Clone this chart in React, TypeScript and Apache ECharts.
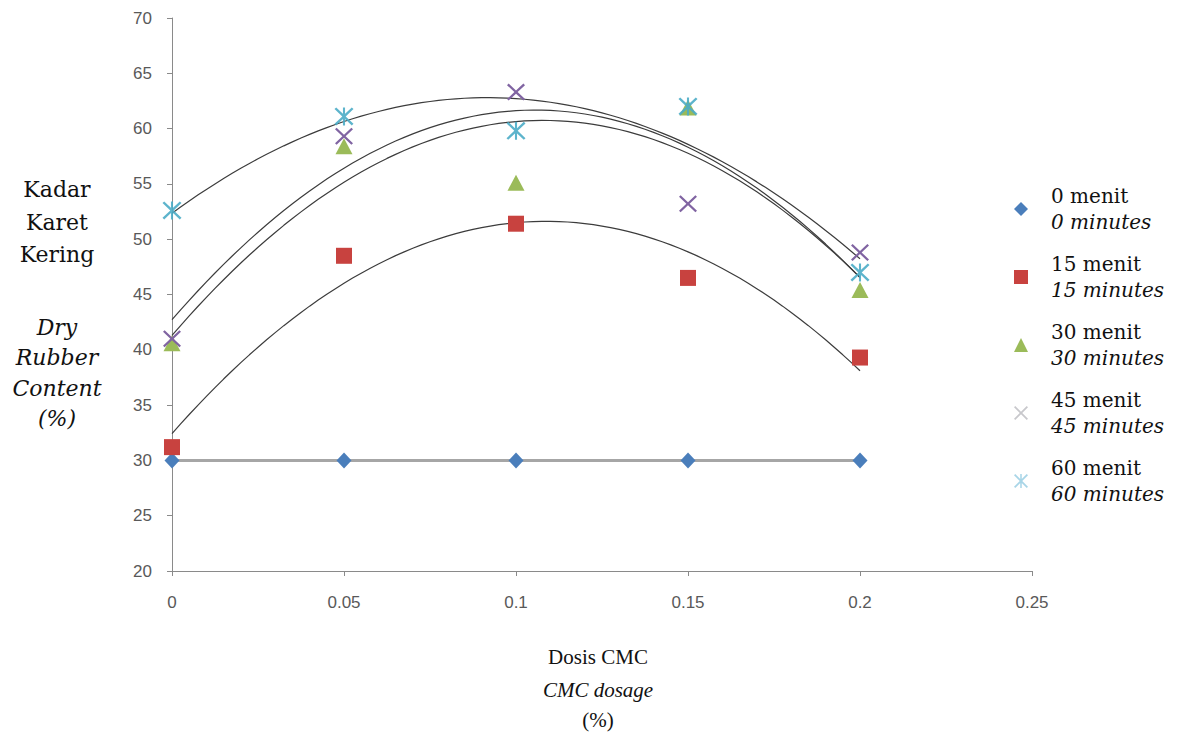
import React, { useEffect, useRef } from "react";
import * as echarts from "echarts";

const dosage = [0, 0.05, 0.1, 0.15, 0.2];
const menit0 = [30, 30, 30, 30, 30];
const menit15 = [31.2, 48.5, 51.4, 46.5, 39.3];
const menit30 = [40.6, 58.4, 55.1, 61.9, 45.4];
const menit45 = [41.0, 59.3, 63.3, 53.2, 48.8];
const menit60 = [52.6, 61.1, 59.8, 62.0, 47.0];

const seriesNames = ["0 menit", "15 menit", "30 menit", "45 menit", "60 menit"];
const englishNames = ["0 minutes", "15 minutes", "30 minutes", "45 minutes", "60 minutes"];
const yTicks = { min: 20, max: 70, interval: 5 };
const xTicks = { min: 0, max: 0.25, interval: 0.05 };

const X_SYMBOL =
  "path://M0,0.9L0.9,0L5,4.1L9.1,0L10,0.9L5.9,5L10,9.1L9.1,10L5,5.9L0.9,10L0,9.1L4.1,5Z";
const STAR_SYMBOL =
  "path://M0,0.9L0.9,0L5,4.1L9.1,0L10,0.9L5.9,5L10,9.1L9.1,10L5,5.9L0.9,10L0,9.1L4.1,5Z M4.45,0L5.55,0L5.55,10L4.45,10Z";

// least-squares quadratic fit (Excel polynomial trendline, order 2)
function quadFit(xs: number[], ys: number[]) {
  const n = xs.length;
  const s = [0, 0, 0, 0, 0];
  const t = [0, 0, 0];
  for (let i = 0; i < n; i++) {
    const x = xs[i];
    const y = ys[i];
    for (let k = 0; k < 5; k++) s[k] += Math.pow(x, k);
    for (let k = 0; k < 3; k++) t[k] += Math.pow(x, k) * y;
  }
  const A = [
    [s[0], s[1], s[2], t[0]],
    [s[1], s[2], s[3], t[1]],
    [s[2], s[3], s[4], t[2]],
  ];
  for (let c = 0; c < 3; c++) {
    let p = c;
    for (let r = c + 1; r < 3; r++) if (Math.abs(A[r][c]) > Math.abs(A[p][c])) p = r;
    [A[c], A[p]] = [A[p], A[c]];
    for (let r = 0; r < 3; r++) {
      if (r === c) continue;
      const f = A[r][c] / A[c][c];
      for (let k = c; k < 4; k++) A[r][k] -= f * A[c][k];
    }
  }
  const coef = [A[0][3] / A[0][0], A[1][3] / A[1][1], A[2][3] / A[2][2]];
  return (x: number) => coef[0] + coef[1] * x + coef[2] * x * x;
}

function trend(ys: number[]) {
  const f = quadFit(dosage, ys);
  const x0 = dosage[0];
  const x1 = dosage[dosage.length - 1];
  const pts: number[][] = [];
  const steps = 80;
  for (let i = 0; i <= steps; i++) {
    const x = x0 + ((x1 - x0) * i) / steps;
    pts.push([x, f(x)]);
  }
  return pts;
}

const pairs = (ys: number[]) => dosage.map((x, i) => [x, ys[i]]);

export default function App() {
  const ref = useRef<HTMLDivElement>(null);
  useEffect(() => {
    document.body.style.margin = "0";
    if (!ref.current) return;
    const chart = echarts.init(ref.current, null, { renderer: "svg" });
    const trendStyle = { color: "#3c3c3c", width: 1.2 };
    const option: any = {
      animation: false,
      backgroundColor: "#ffffff",
      grid: { left: 172, right: 145, top: 18, bottom: 162 },
      xAxis: {
        type: "value",
        min: xTicks.min,
        max: xTicks.max,
        interval: xTicks.interval,
        splitLine: { show: false },
        axisLine: { onZero: false, lineStyle: { color: "#8a8a8a", width: 1 } },
        axisTick: { show: true, length: 5, lineStyle: { color: "#8a8a8a" } },
        axisLabel: {
          margin: 23,
          color: "#595959",
          fontFamily: "Liberation Sans",
          fontSize: 17,
        },
      },
      yAxis: {
        type: "value",
        min: yTicks.min,
        max: yTicks.max,
        interval: yTicks.interval,
        splitLine: { show: false },
        axisLine: { show: true, lineStyle: { color: "#8a8a8a", width: 1 } },
        axisTick: { show: true, length: 5, lineStyle: { color: "#8a8a8a" } },
        axisLabel: {
          margin: 20,
          color: "#595959",
          fontFamily: "Liberation Sans",
          fontSize: 17,
        },
      },
      legend: {
        orient: "vertical",
        left: 1009,
        top: 181,
        itemGap: 22,
        itemWidth: 14,
        itemHeight: 14,
        data: [
          { name: seriesNames[0] },
          { name: seriesNames[1] },
          { name: seriesNames[2] },
          { name: seriesNames[3], itemStyle: { color: "#c8c8cc" } },
          { name: seriesNames[4], itemStyle: { color: "#9fd0e4" } },
        ],
        formatter: (name: string) => {
          const i = seriesNames.indexOf(name);
          return `{a|${name}}\n{b|${englishNames[i]}}`;
        },
        textStyle: {
          color: "#111",
          fontFamily: "DejaVu Serif",
          fontSize: 20,
          rich: {
            a: {
              fontFamily: "DejaVu Serif",
              fontSize: 20,
              lineHeight: 26,
              color: "#111",
              padding: [0, 0, 0, 18],
            },
            b: {
              fontFamily: "DejaVu Serif",
              fontStyle: "italic",
              fontSize: 20,
              lineHeight: 26,
              color: "#111",
              padding: [0, 0, 0, 18],
            },
          },
        },
      },
      graphic: [
        {
          type: "text",
          style: {
            text: "Kadar\nKaret\nKering",
            x: 57,
            y: 222,
            align: "center",
            verticalAlign: "middle",
            fontFamily: "DejaVu Serif",
            fontSize: 22,
            lineHeight: 32.5,
            fill: "#111",
          },
        },
        {
          type: "text",
          style: {
            text: "Dry\nRubber\nContent\n(%)",
            x: 57,
            y: 373,
            align: "center",
            verticalAlign: "middle",
            fontFamily: "DejaVu Serif",
            fontStyle: "italic",
            fontSize: 22,
            lineHeight: 30.5,
            fill: "#111",
          },
        },
        {
          type: "text",
          style: {
            text: "Dosis CMC",
            x: 598,
            y: 657,
            align: "center",
            verticalAlign: "middle",
            fontFamily: "Liberation Serif",
            fontSize: 21,
            fill: "#111",
          },
        },
        {
          type: "text",
          style: {
            text: "CMC dosage",
            x: 598,
            y: 690,
            align: "center",
            verticalAlign: "middle",
            fontFamily: "Liberation Serif",
            fontStyle: "italic",
            fontSize: 21,
            fill: "#111",
          },
        },
        {
          type: "text",
          style: {
            text: "(%)",
            x: 598,
            y: 720,
            align: "center",
            verticalAlign: "middle",
            fontFamily: "Liberation Serif",
            fontSize: 21,
            fill: "#111",
          },
        },
      ],
      series: [
        {
          name: "trend0",
          type: "line",
          data: trend(menit0),
          showSymbol: false,
          silent: true,
          lineStyle: { color: "#a6a6a6", width: 3 },
          z: 1,
        },
        {
          name: "trend15",
          type: "line",
          data: trend(menit15),
          showSymbol: false,
          silent: true,
          lineStyle: trendStyle,
          z: 1,
        },
        {
          name: "trend30",
          type: "line",
          data: trend(menit30),
          showSymbol: false,
          silent: true,
          lineStyle: trendStyle,
          z: 1,
        },
        {
          name: "trend45",
          type: "line",
          data: trend(menit45),
          showSymbol: false,
          silent: true,
          lineStyle: trendStyle,
          z: 1,
        },
        {
          name: "trend60",
          type: "line",
          data: trend(menit60),
          showSymbol: false,
          silent: true,
          lineStyle: trendStyle,
          z: 1,
        },
        {
          name: seriesNames[0],
          type: "scatter",
          data: pairs(menit0),
          symbol: "diamond",
          symbolSize: [15, 16],
          itemStyle: { color: "#4a7ebb", opacity: 1 },
          z: 3,
        },
        {
          name: seriesNames[1],
          type: "scatter",
          data: pairs(menit15),
          symbol: "rect",
          symbolSize: 16,
          itemStyle: { color: "#c8423f", opacity: 1 },
          z: 3,
        },
        {
          name: seriesNames[2],
          type: "scatter",
          data: pairs(menit30),
          symbol: "triangle",
          symbolSize: [17, 16],
          itemStyle: { color: "#9bbb59", opacity: 1 },
          z: 3,
        },
        {
          name: seriesNames[3],
          type: "scatter",
          data: pairs(menit45),
          symbol: X_SYMBOL,
          symbolSize: [18, 17],
          itemStyle: { color: "#8064a2", opacity: 1 },
          z: 3,
        },
        {
          name: seriesNames[4],
          type: "scatter",
          data: pairs(menit60),
          symbol: STAR_SYMBOL,
          symbolSize: [19, 18],
          itemStyle: { color: "#4bacc6", opacity: 0.9 },
          z: 3,
        },
      ],
    };
    chart.setOption(option);
    return () => chart.dispose();
  }, []);
  return <div ref={ref} style={{ width: 1177, height: 733 }} />;
}
